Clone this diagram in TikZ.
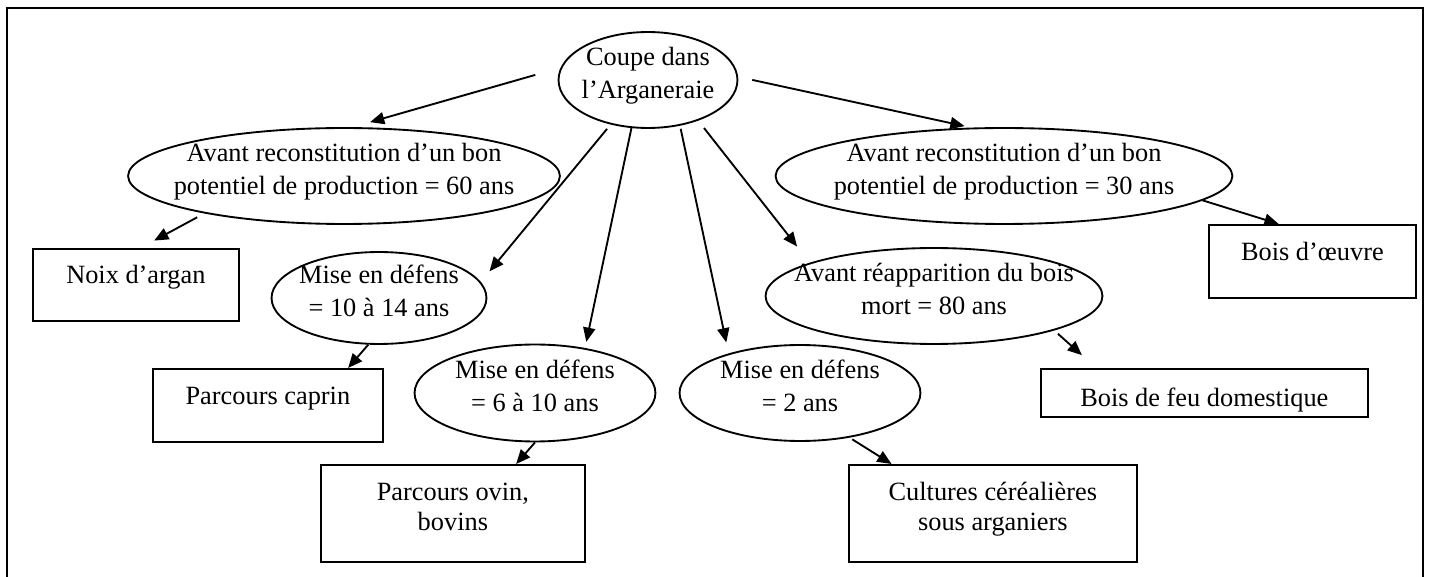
\documentclass[tikz,border=0pt]{standalone}
\usepackage{fontspec}
\setmainfont{Liberation Serif}
\usetikzlibrary{shapes.geometric,arrows.meta}
\newcommand{\ellbody}[1]{\makebox[0pt]{\begin{tabular}{@{}c@{}}#1\end{tabular}}}

\begin{document}
\begin{tikzpicture}[x=0.016cm, y=-0.016cm, line width=0.85pt,
        >={Triangle[length=6.5pt,width=5.5pt]},
        ellnode/.style={ellipse, draw, inner sep=0pt, text height=0.07cm, text depth=0pt, font=\fontsize{12}{14.8}\selectfont},
        boxnode/.style={rectangle, draw, inner ysep=0pt, anchor=north west, align=center, font=\fontsize{12}{13.7}\selectfont}]
        \useasboundingbox (0,0) rectangle (1429,577);
        \draw[line width=0.9pt] (7,577) -- (7,8) -- (1423,8) -- (1423,577);
        \node[ellnode, minimum width=2.864cm, minimum height=1.536cm] (coupe) at (648,80) {\ellbody{Coupe dans\\l’Arganeraie}};
        \node[ellnode, minimum width=6.912cm, minimum height=1.536cm] (avantsoixante) at (344,176) {\ellbody{Avant reconstitution d’un bon\\potentiel de production = 60 ans}};
        \node[ellnode, minimum width=7.312cm, minimum height=1.536cm] (avanttrente) at (1004,176) {\ellbody{Avant reconstitution d’un bon\\potentiel de production = 30 ans}};
        \node[ellnode, minimum width=3.44cm, minimum height=1.472cm] (defensquatorze) at (379,298) {\ellbody{Mise en défens\\= 10 à 14 ans}};
        \node[ellnode, minimum width=3.856cm, minimum height=1.552cm] (defensdix) at (535,393) {\ellbody{Mise en défens\\= 6 à 10 ans}};
        \node[ellnode, minimum width=3.856cm, minimum height=1.536cm] (defensdeux) at (800,393) {\ellbody{Mise en défens\\= 2 ans}};
        \node[ellnode, minimum width=5.392cm, minimum height=1.536cm] (boismort) at (934,296) {\ellbody{Avant réapparition du bois\\mort = 80 ans}};
        \node[boxnode, minimum width=3.296cm, text height=0.56cm, text depth=0.592cm] (noix) at (32,248) {Noix d’argan};
        \node[boxnode, minimum width=3.68cm, text height=0.576cm, text depth=0.592cm] (caprin) at (152,368) {Parcours caprin};
        \node[boxnode, minimum width=4.224cm, text height=1.056cm, text depth=0.496cm] (ovin) at (320,464) {Parcours ovin,\\bovins};
        \node[boxnode, minimum width=4.608cm, text height=1.056cm, text depth=0.496cm] (cereales) at (848,464) {Cultures céréalières\\sous arganiers};
        \node[boxnode, minimum width=3.312cm, text height=0.576cm, text depth=0.592cm] (oeuvre) at (1208,224) {Bois d’œuvre};
        \node[boxnode, minimum width=5.232cm, text height=0.608cm, text depth=0.16cm] (feu) at (1040,368) {Bois de feu domestique};
        \draw[->, shorten <=0.42cm, shorten >=0.29cm] (coupe.172) -- (avantsoixante.80);
        \draw[->, shorten <=0.23cm, shorten >=0.11cm] (coupe.2) -- (avanttrente.124);
        \draw[->, shorten <=0.09cm, shorten >=0.22cm] (coupe.230) -- (defensquatorze.9);
        \draw[->, shorten >=0.1cm] (coupe.251) -- (defensdix.42);
        \draw[->, shorten <=0.05cm, shorten >=0.18cm] (coupe.305) -- (defensdeux.151);
        \draw[->, shorten <=0.15cm, shorten >=0.33cm] (coupe.321) -- (boismort.165);
        \draw[->, shorten <=0.13cm, shorten >=0.25cm] (avantsoixante.195) -- (noix.83);
        \draw[->] (avanttrente.353) -- (oeuvre.132);
        \draw[->] (defensquatorze.257) -- (caprin.25);
        \draw[->] (defensdix.south) -- (ovin.38);
        \draw[->, shorten <=0.05cm] (defensdeux.318) -- (cereales.154);
        \draw[->, shorten <=0.08cm, shorten >=0.31cm] (boismort.344) -- (feu.167);
\end{tikzpicture}
\end{document}
